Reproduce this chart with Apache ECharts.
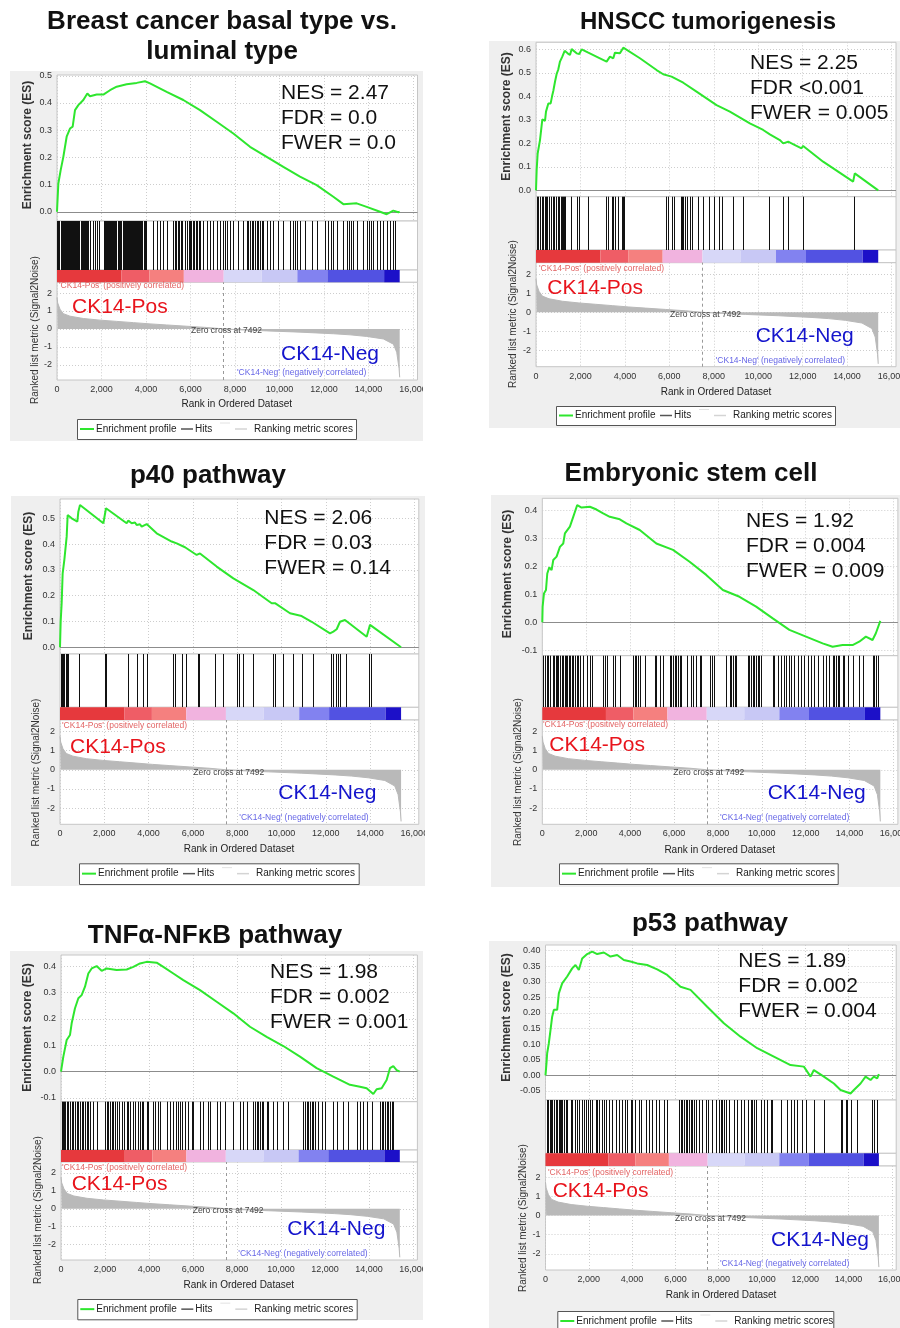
<!DOCTYPE html>
<html><head><meta charset="utf-8">
<script src="https://cdn.jsdelivr.net/npm/echarts@6/dist/echarts.min.js"></script>
<style>html,body{margin:0;padding:0;background:#fff}#c{width:900px;height:1328px}</style>
</head><body><div id="c"></div><script>
// ---------------- DATA ----------------
const XMAX = 16200;
const xTicks = [0, 2000, 4000, 6000, 8000, 10000, 12000, 14000, 16000];
const metricTicks = [-2, -1, 0, 1, 2];
const metricRange = [-2.85, 2.6];
const zeroCross = 7492;
const metricRanks = [0, 30, 135, 285, 584, 1184, 1933, 2682, 3431, 4180, 4929, 5828, 6727, 7492, 8225, 9423, 10921, 12419, 13169, 13918, 14667, 15116, 15266, 15371, 15400];
const metricValues = [1.75, 1.45, 1.1, 0.85, 0.71, 0.58, 0.49, 0.42, 0.35, 0.28, 0.22, 0.15, 0.08, 0, -0.05, -0.11, -0.18, -0.27, -0.33, -0.42, -0.56, -0.85, -1.3, -2.2, -2.7];
const colorBarEdges = [0, 2900, 4150, 5700, 7492, 9200, 10800, 12150, 14700, 15400];
const legendLabels = ['Enrichment profile', 'Hits', 'Ranking metric scores'];
const groupLabels = ['CK14-Pos', 'CK14-Neg'];
const corrLabels = ["'CK14-Pos' (positively correlated)", "'CK14-Neg' (negatively correlated)"];
const xAxisTitle = 'Rank in Ordered Dataset';
const esAxisTitle = 'Enrichment score (ES)';
const metricAxisTitle = 'Ranked list metric (Signal2Noise)';

const titles1 = ['Breast cancer basal type vs.', 'luminal type'];
const stats1 = ['NES = 2.47', 'FDR = 0.0', 'FWER = 0.0'];
const esTicks1 = [0, 0.1, 0.2, 0.3, 0.4, 0.5];
const esRange1 = [-0.034, 0.503];
const esRanks1 = [0,60,165,285,434,584,704,809,959,1183,1363,1483,1783,2082,2382,2681,3131,3580,3955,4179,4928,5677,6426,7175,7924,8673,9423,10171,10920,11669,12418,12868,13467,13916,14516,14815,15115,15340,15400];
const esScores1 = [0,0.104,0.153,0.202,0.276,0.306,0.313,0.374,0.392,0.411,0.435,0.425,0.431,0.431,0.447,0.460,0.469,0.474,0.480,0.472,0.441,0.411,0.374,0.331,0.288,0.239,0.202,0.165,0.129,0.098,0.055,0.028,0.031,0.018,0.000,-0.009,0.004,-0.002,0];
const hits1 = [15,48,70,110,160,190,240,268,310,345,395,420,470,500,545,590,615,660,700,730,780,815,850,900,930,975,1010,1060,1090,1140,1180,1230,1260,1310,1360,1395,1483,1603,1708,1813,1903,2100,2150,2190,2240,2300,2350,2380,2430,2470,2520,2560,2610,2660,2760,2800,2850,2890,2950,3000,3040,3090,3130,3190,3230,3280,3330,3370,3420,3460,3520,3560,3610,3650,3700,3750,3790,3840,3900,3950,4000,4329,4479,4629,4779,4928,5230,5300,5360,5420,5480,5550,5600,5750,5830,5910,5980,6040,6110,6170,6240,6300,6370,6420,6576,6726,6876,7025,7175,7325,7480,7560,7650,7770,7930,8150,8380,8530,8600,8680,8750,8830,8900,8980,9050,9130,9200,9270,9423,9572,9722,9947,10171,10471,10620,10700,10800,10920,11145,11444,11669,12044,12194,12300,12418,12568,12868,13018,13100,13200,13317,13467,13767,13916,14000,14100,14200,14366,14516,14666,14815,14965,15115,15190];

const titles2 = ['HNSCC tumorigenesis'];
const stats2 = ['NES = 2.25', 'FDR <0.001', 'FWER = 0.005'];
const esTicks2 = [0, 0.1, 0.2, 0.3, 0.4, 0.5, 0.6];
const esRange2 = [-0.027, 0.63];
const esRanks2 = [0,30,75,150,180,255,285,405,450,555,660,720,780,855,929,1004,1079,1184,1289,1424,1529,1604,1829,1949,2054,2353,2878,3178,3253,3328,3478,3553,3777,3927,4677,5426,5726,6101,6626,7225,8125,8724,9624,10223,10523,10598,10973,11123,11348,11498,11947,12022,12921,14270,14345,15400];
const esScores2 = [0,0.087,0.157,0.157,0.214,0.214,0.302,0.296,0.335,0.370,0.370,0.399,0.424,0.462,0.495,0.515,0.548,0.569,0.594,0.583,0.576,0.601,0.583,0.580,0.600,0.586,0.562,0.548,0.540,0.569,0.562,0.586,0.583,0.607,0.562,0.512,0.494,0.484,0.458,0.420,0.363,0.335,0.285,0.257,0.238,0.243,0.214,0.200,0.207,0.200,0.179,0.189,0.122,0.037,0.072,0];
const hits2 = [30,105,180,255,330,405,450,510,585,675,750,824,899,974,1049,1109,1154,1199,1259,1304,1574,1859,1949,2353,3148,3253,3403,3478,3553,3703,3852,3927,3972,5831,5951,6101,6206,6506,6581,6626,6701,6775,6925,7000,7270,7525,7780,8005,8230,8379,8874,9324,10493,11093,11348,12022,14315];

const titles3 = ['p40 pathway'];
const stats3 = ['NES = 2.06', 'FDR = 0.03', 'FWER = 0.14'];
const esTicks3 = [0, 0.1, 0.2, 0.3, 0.4, 0.5];
const esRange3 = [-0.026, 0.575];
const esRanks3 = [0,30,75,120,181,196,271,301,346,527,783,828,903,1957,2077,3010,3085,3236,3386,3462,3612,3687,3913,4365,5042,5268,5644,6171,6321,7074,7826,8729,9557,9707,10385,10911,11363,12191,12341,12492,12642,12868,13846,13997,15400];
const esScores3 = [0,0.099,0.171,0.287,0.287,0.339,0.332,0.429,0.513,0.500,0.487,0.526,0.552,0.481,0.539,0.481,0.491,0.481,0.484,0.474,0.477,0.468,0.478,0.442,0.410,0.403,0.388,0.358,0.364,0.313,0.267,0.222,0.171,0.171,0.132,0.121,0.099,0.054,0.061,0.070,0.099,0.106,0.041,0.087,0];
const hits3 = [45,90,150,196,256,301,346,858,2032,2077,3085,3462,3732,3913,5087,5192,5493,5689,6246,6291,6998,7344,8007,8097,8278,8699,9602,9707,10084,10505,10911,11438,12236,12341,12462,12567,12642,12898,13951,14026];

const titles4 = ['Embryonic stem cell'];
const stats4 = ['NES = 1.92', 'FDR = 0.004', 'FWER = 0.009'];
const esTicks4 = [-0.1, 0, 0.1, 0.2, 0.3, 0.4];
const esRange4 = [-0.119, 0.442];
const esRanks4 = [0,15,76,167,227,318,424,500,651,803,954,1030,1257,1409,1591,1788,2166,2469,2772,3075,3530,3833,4439,5196,5954,6711,7469,8226,8984,9741,10499,11256,12014,12771,13226,13680,14135,14438,14741,15044,15196,15400];
const esScores4 = [0,0.056,0.103,0.115,0.174,0.196,0.186,0.222,0.234,0.269,0.281,0.317,0.341,0.376,0.418,0.409,0.412,0.402,0.388,0.376,0.367,0.353,0.329,0.281,0.258,0.216,0.169,0.115,0.091,0.056,0.014,-0.027,-0.051,-0.075,-0.087,-0.081,-0.081,-0.069,-0.051,-0.063,-0.039,0.005];
const hits4 = [45,121,197,273,348,470,545,606,651,727,803,879,954,1030,1076,1136,1197,1257,1333,1409,1485,1560,1636,1712,1833,2045,2166,2242,2772,2848,2954,3227,3303,3530,4136,4212,4287,4363,4439,4666,5121,5196,5348,5499,5802,5878,5954,6030,6105,6181,6257,6333,6605,6787,6863,7014,7166,7242,7620,7742,7802,8378,8529,8605,8681,8757,8832,9363,9438,9514,9590,9666,9741,9817,9893,9969,10499,10575,10726,10878,10999,11105,11256,11332,11484,11635,11787,11938,12090,12241,12393,12544,12771,12923,13074,13226,13302,13377,13453,13529,13680,13756,13908,14135,14438,14590,15044,15120,15196,15272];

const titles5 = ['TNFα-NFκB pathway'];
const stats5 = ['NES = 1.98', 'FDR = 0.002', 'FWER = 0.001'];
const esTicks5 = [-0.1, 0, 0.1, 0.2, 0.3, 0.4];
const esRange5 = [-0.114, 0.442];
const esRanks5 = [0,106,258,409,485,636,788,939,1091,1242,1394,1621,1848,2076,2530,2985,3288,3591,3894,4348,4651,5106,5560,6318,7075,7833,8590,9348,10105,10863,11620,12378,13135,13590,13893,14196,14347,14574,14802,14953,15105,15256,15400];
const esScores5 = [0,0.057,0.120,0.139,0.183,0.240,0.278,0.290,0.322,0.372,0.391,0.400,0.382,0.391,0.385,0.387,0.397,0.410,0.416,0.413,0.397,0.372,0.347,0.309,0.265,0.221,0.170,0.132,0.097,0.057,0.013,-0.019,-0.050,-0.057,-0.063,-0.085,-0.067,-0.063,-0.032,0.013,0.021,0.006,0];
const hits5 = [30,76,136,197,258,333,409,485,561,636,712,788,864,939,1015,1091,1167,1242,1318,1470,1621,2000,2076,2151,2227,2303,2379,2454,2530,2651,2757,2864,2985,3060,3136,3288,3363,3515,3591,3666,3742,3894,3969,4197,4272,4424,4500,4803,4954,5106,5212,5333,5409,5484,5636,5787,5939,6015,6318,6469,6696,6772,7075,7227,7454,7833,8136,8287,8439,8742,8817,8893,8969,9045,9121,9196,9348,9424,9651,9802,10105,10333,11014,11090,11166,11242,11317,11393,11469,11545,11696,11848,11999,12378,12529,12832,13059,13438,13590,13741,13893,14120,14499,14574,14650,14726,14802,14878,14953,15029,15105];

const titles6 = ['p53 pathway'];
const stats6 = ['NES = 1.89', 'FDR = 0.002', 'FWER = 0.004'];
const esTicks6 = [-0.05, 0, 0.05, 0.1, 0.15, 0.2, 0.25, 0.3, 0.35, 0.4];
const esRange6 = [-0.079, 0.418];
const esRanks6 = [0,46,77,154,231,308,385,539,616,770,1001,1232,1386,1540,1694,1925,2156,2387,2695,3003,3311,3619,3927,4235,4697,5159,5621,6237,6699,7469,8239,9009,9779,10549,11319,11935,12243,12397,12859,13321,13629,14091,14245,14553,14784,15015,15169,15323,15400];
const esScores6 = [0,0.039,0.071,0.103,0.145,0.188,0.210,0.210,0.263,0.295,0.317,0.343,0.354,0.338,0.375,0.389,0.397,0.389,0.394,0.381,0.386,0.370,0.365,0.359,0.354,0.340,0.322,0.284,0.274,0.220,0.167,0.124,0.087,0.060,0.033,0.028,-0.004,0.017,-0.004,-0.026,-0.047,-0.058,-0.047,-0.026,-0.004,-0.015,-0.004,-0.010,0.004];
const hits6 = [77,123,185,231,308,385,462,539,616,662,724,770,847,924,1001,1155,1232,1340,1432,1540,1694,1771,1848,1956,2048,2156,2310,2387,2464,2618,2695,2772,2926,3080,3234,3388,3542,3650,3773,3927,4004,4112,4312,4420,4620,4774,4928,5082,5236,5467,5621,6160,6237,6314,6391,6468,6545,6622,6699,6776,6853,6930,7084,7238,7392,7500,7700,7854,8008,8085,8162,8239,8316,8470,8701,8855,9009,9163,9348,9471,9548,9625,9702,9933,10087,10241,10395,10472,10857,11165,11319,11473,11627,11858,12012,12397,12859,13629,13706,13860,13937,14091,14399,15092,15169,15323];

// ---------------- LAYOUT / STYLE ----------------
const FONT = '"Liberation Sans", Arial, Helvetica, sans-serif';
const GREEN = '#2ee62e';
const cbPalette = ['#e6393d', '#ef5d66', '#f5807f', '#f1b3df', '#d7d7f8', '#c8c8f5', '#8282f0', '#5252e2', '#1c10c8'];
const layouts = [
 {left:57, width:360.5, esTop:75, hitsTop:221, cbTop:270, metTop:282.3, metBottom:380, bg:[10,71,423,441], title:[222,[22,52]], titleSize:26, stats:[281,93], esLab:[27.5,145], metLab:[35,330], xTitle:[236.8,404.3], posSmall:[59,286], zeroTxt:[191,330.7], negSmall:[237,372.7], ckPos:[72,307], ckNeg:[281,354], legend:[77,419,356,439], dec:1},
 {left:536, width:360, esTop:42.3, hitsTop:196.7, cbTop:250, metTop:262.7, metBottom:366.7, bg:[489,41,900,428], title:[708,[22]], titleSize:24, stats:[750,63.3], esLab:[506.7,116.5], metLab:[513,314], xTitle:[716,392.7], posSmall:[539,269], zeroTxt:[670,315], negSmall:[715.7,360.7], ckPos:[547.3,288.3], ckNeg:[755.7,336.7], legend:[556,406,835,425], dec:1},
 {left:60, width:358.8, esTop:499, hitsTop:654, cbTop:707.3, metTop:720, metBottom:824.3, bg:[11,496,425,886], title:[208,[476]], titleSize:26, stats:[264.3,518.3], esLab:[29,576], metLab:[36.7,772.5], xTitle:[239,849.3], posSmall:[62,726], zeroTxt:[193.3,772.3], negSmall:[239.3,817.7], ckPos:[70,747.3], ckNeg:[278.3,793.3], legend:[79,863.3,358.7,884], dec:1},
 {left:542.3, width:355.6, esTop:498.3, hitsTop:655.7, cbTop:707.3, metTop:720, metBottom:824.3, bg:[491,495,900,887], title:[691,[474]], titleSize:26, stats:[746,521], esLab:[507.5,574], metLab:[518,772], xTitle:[719.7,850], posSmall:[543,725], zeroTxt:[673.3,772.3], negSmall:[720,817.7], ckPos:[549.3,745], ckNeg:[767.7,793.3], legend:[559,863.3,837.7,884], dec:1},
 {left:61, width:356.4, esTop:955, hitsTop:1101.7, cbTop:1150, metTop:1162, metBottom:1260, bg:[10,951,423,1320], title:[215,[936]], titleSize:26, stats:[270,972.3], esLab:[27.5,1027.5], metLab:[38,1210], xTitle:[238.8,1285], posSmall:[62,1167.3], zeroTxt:[192.7,1211], negSmall:[238.3,1253.3], ckPos:[71.7,1184.3], ckNeg:[287.3,1229.3], legend:[77.3,1299,356.7,1319.3], dec:1},
 {left:545.5, width:350.7, esTop:945, hitsTop:1100, cbTop:1153.3, metTop:1166, metBottom:1270, bg:[489,941,900,1328], title:[710,[924]], titleSize:26, stats:[738.3,961], esLab:[506.7,1017.5], metLab:[523,1218], xTitle:[721,1295.7], posSmall:[548,1172.3], zeroTxt:[675,1218.3], negSmall:[720,1263.3], ckPos:[552.7,1191], ckNeg:[771,1240.7], legend:[557.3,1311,833.3,1331], dec:2}
];
const panels = [
 {titles:titles1, stats:stats1, esTicks:esTicks1, esRange:esRange1, esRanks:esRanks1, esScores:esScores1, hits:hits1},
 {titles:titles2, stats:stats2, esTicks:esTicks2, esRange:esRange2, esRanks:esRanks2, esScores:esScores2, hits:hits2},
 {titles:titles3, stats:stats3, esTicks:esTicks3, esRange:esRange3, esRanks:esRanks3, esScores:esScores3, hits:hits3},
 {titles:titles4, stats:stats4, esTicks:esTicks4, esRange:esRange4, esRanks:esRanks4, esScores:esScores4, hits:hits4},
 {titles:titles5, stats:stats5, esTicks:esTicks5, esRange:esRange5, esRanks:esRanks5, esScores:esScores5, hits:hits5},
 {titles:titles6, stats:stats6, esTicks:esTicks6, esRange:esRange6, esRanks:esRanks6, esScores:esScores6, hits:hits6}
];

const fmtK = v => String(v).replace(/\B(?=(\d{3})+(?!\d))/g, ',');
const dotted = {show:true, lineStyle:{color:'#cdcdcd', type:[1,2], width:1}};
const grids = [], xAxes = [], yAxes = [], series = [], gfx = [];

function T(text, x, y, size, color, o) {
  o = o || {};
  return {type:'text', x:x, y:y, z:100, rotation:o.rot || 0, silent:true,
    style:{text:text, fontSize:size, fontFamily:FONT, fontWeight:o.bold ? 'bold' : 'normal', fill:color,
      align:o.align || 'left', verticalAlign:'middle'}};
}
function LN(x1, y1, x2, y2, color, w) {
  return {type:'line', z:100, silent:true, shape:{x1:x1, y1:y1, x2:x2, y2:y2}, style:{stroke:color, lineWidth:w}};
}

panels.forEach((p, i) => {
  const L = layouts[i];
  const g0 = grids.length;
  const mk = (top, bottom) => ({left:L.left, width:L.width, top:top, height:bottom - top, show:true,
    backgroundColor:'#fff', borderColor:'#c6c6c6', borderWidth:1, containLabel:false, outerBoundsMode:'none'});
  grids.push(mk(L.esTop, L.hitsTop), mk(L.hitsTop, L.cbTop), mk(L.cbTop, L.metTop), mk(L.metTop, L.metBottom));
  for (let k = 0; k < 4; k++) {
    xAxes.push({type:'value', gridIndex:g0 + k, min:0, max:XMAX,
      axisLine:{show:false}, axisTick:{show:false, customValues:xTicks},
      axisLabel:{show:k === 3, customValues:xTicks, fontSize:9, color:'#333', fontFamily:FONT, margin:5, formatter:fmtK},
      splitLine:(k === 0 || k === 3) ? dotted : {show:false}});
  }
  yAxes.push({type:'value', gridIndex:g0, min:p.esRange[0], max:p.esRange[1],
    axisLine:{show:false}, axisTick:{show:false, customValues:p.esTicks},
    axisLabel:{customValues:p.esTicks, fontSize:9, color:'#333', fontFamily:FONT, margin:5, formatter:v => v.toFixed(L.dec)},
    splitLine:dotted});
  yAxes.push({type:'value', gridIndex:g0 + 1, min:0, max:1, show:false, splitLine:{show:false}});
  yAxes.push({type:'value', gridIndex:g0 + 2, min:0, max:1, show:false, splitLine:{show:false}});
  yAxes.push({type:'value', gridIndex:g0 + 3, min:metricRange[0], max:metricRange[1],
    axisLine:{show:false}, axisTick:{show:false, customValues:metricTicks},
    axisLabel:{customValues:metricTicks, fontSize:9, color:'#333', fontFamily:FONT, margin:5, formatter:v => String(v)},
    splitLine:dotted});

  // Enrichment profile
  series.push({type:'line', xAxisIndex:g0, yAxisIndex:g0, data:p.esRanks.map((r, j) => [r, p.esScores[j]]),
    symbol:'none', lineStyle:{color:GREEN, width:2}, z:5, silent:true,
    markLine:{silent:true, symbol:['none', 'none'], label:{show:false}, animation:false,
      lineStyle:{color:'#8c8c8c', type:'solid', width:1}, data:[{yAxis:0}]}});
  // Hits
  series.push({type:'custom', xAxisIndex:g0 + 1, yAxisIndex:g0 + 1, data:p.hits.map(r => [r, 0]), silent:true,
    renderItem:(params, api) => {
      const a = api.coord([api.value(0), 0]);
      const b = api.coord([api.value(0), 1]);
      const x = Math.round(a[0]) + 0.5;
      return {type:'line', shape:{x1:x, y1:a[1], x2:x, y2:b[1]}, style:{stroke:'#111', lineWidth:1}};
    }});
  // Color bar
  series.push({type:'custom', xAxisIndex:g0 + 2, yAxisIndex:g0 + 2, silent:true,
    data:colorBarEdges.slice(0, -1).map((s, j) => [s, colorBarEdges[j + 1], j]),
    renderItem:(params, api) => {
      const a = api.coord([api.value(0), 1]);
      const b = api.coord([api.value(1), 0]);
      return {type:'rect', shape:{x:a[0], y:a[1], width:b[0] - a[0], height:b[1] - a[1]},
        style:{fill:cbPalette[api.value(2)]}};
    }});
  // Ranked list metric
  series.push({type:'line', xAxisIndex:g0 + 3, yAxisIndex:g0 + 3, data:metricRanks.map((r, j) => [r, metricValues[j]]),
    symbol:'none', lineStyle:{color:'#b9b9b9', width:1}, areaStyle:{color:'#b9b9b9', opacity:1}, silent:true,
    markLine:{silent:true, symbol:['none', 'none'], label:{show:false}, animation:false,
      lineStyle:{color:'#999', type:[3, 3], width:1}, data:[{xAxis:zeroCross}]}});

  // gray panel background and crop cover
  const [bx0, by0, bx1, by1] = L.bg;
  gfx.push({type:'rect', z:-10, silent:true, shape:{x:bx0, y:by0, width:bx1 - bx0, height:by1 - by0}, style:{fill:'#efefef'}});
  if (bx1 < 880) gfx.push({type:'rect', z:90, silent:true, shape:{x:bx1, y:by0, width:489 - bx1, height:by1 - by0}, style:{fill:'#fff'}});
  // titles
  p.titles.forEach((t, j) => gfx.push(T(t, L.title[0], L.title[1][j], L.titleSize, '#111', {bold:true, align:'center'})));
  // stats
  p.stats.forEach((t, j) => gfx.push(T(t, L.stats[0], L.stats[1] + 25 * j, 21, '#111')));
  // axis titles
  gfx.push(T(esAxisTitle, L.esLab[0], L.esLab[1], 12, '#333', {bold:true, align:'center', rot:Math.PI / 2}));
  gfx.push(T(metricAxisTitle, L.metLab[0], L.metLab[1], 10, '#333', {align:'center', rot:Math.PI / 2}));
  gfx.push(T(xAxisTitle, L.xTitle[0], L.xTitle[1], 10, '#222', {align:'center'}));
  // annotations
  gfx.push(T(corrLabels[0], L.posSmall[0], L.posSmall[1], 8.5, '#e26464'));
  gfx.push(T('Zero cross at ' + zeroCross, L.zeroTxt[0], L.zeroTxt[1], 8.5, '#444'));
  gfx.push(T(corrLabels[1], L.negSmall[0], L.negSmall[1], 8.5, '#6666e6'));
  gfx.push(T(groupLabels[0], L.ckPos[0], L.ckPos[1], 21, '#e8141c'));
  gfx.push(T(groupLabels[1], L.ckNeg[0], L.ckNeg[1], 21, '#1414cc'));
  // legend
  const [lx0, ly0, lx1, ly1] = L.legend;
  const cy = (ly0 + ly1) / 2;
  gfx.push({type:'rect', z:95, silent:true, shape:{x:lx0 + 0.5, y:ly0 + 0.5, width:lx1 - lx0, height:ly1 - ly0}, style:{fill:'#fff', stroke:'#555', lineWidth:1}});
  gfx.push(LN(lx0 + 3, cy, lx0 + 17, cy, GREEN, 2));
  gfx.push(T(legendLabels[0], lx0 + 19, cy, 10, '#222'));
  gfx.push(LN(lx0 + 104, cy, lx0 + 116, cy, '#555', 1.5));
  gfx.push(T(legendLabels[1], lx0 + 118, cy, 10, '#222'));
  gfx.push(LN(lx0 + 143, cy - 6, lx0 + 153, cy - 6, '#e2e2e2', 1));
  gfx.push(LN(lx0 + 158, cy, lx0 + 170, cy, '#d4d4d4', 1.5));
  gfx.push(T(legendLabels[2], lx0 + 177, cy, 10, '#222'));
});

const chart = echarts.init(document.getElementById('c'), null, {renderer:'canvas'});
chart.setOption({
  animation:false, backgroundColor:'#fff',
  grid:grids, xAxis:xAxes, yAxis:yAxes, series:series, graphic:{elements:gfx}
});
</script></body></html>
